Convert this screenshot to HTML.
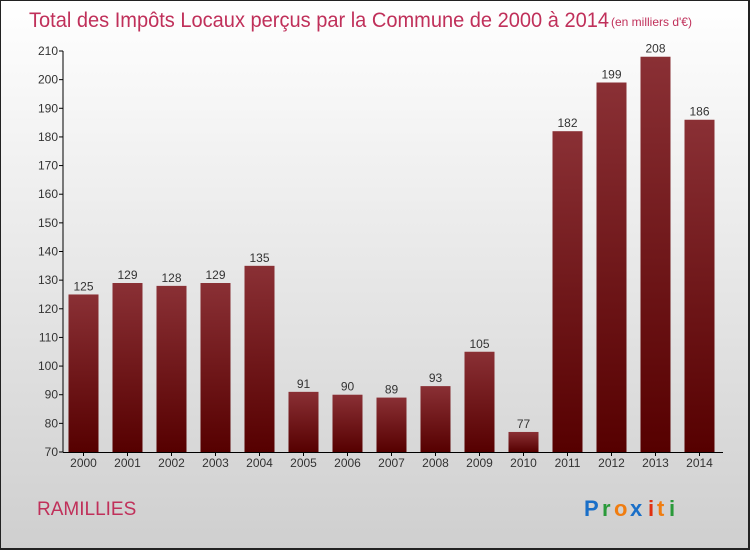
<!DOCTYPE html>
<html><head><meta charset="utf-8"><style>
body{margin:0;}
#wrap{width:750px;height:550px;position:relative;box-sizing:border-box;border:1px solid #222;border-width:1px 2px 2px 1px;background:linear-gradient(#ffffff,#cfcfcf);font-family:"Liberation Sans",sans-serif;overflow:hidden}
</style></head><body>
<div id="wrap">
<svg id="chart" width="750" height="550" style="position:absolute;left:0;top:0">
<defs><linearGradient id="bg" x1="0" x2="0" y1="0" y2="1"><stop offset="0" stop-color="#8a3035"/><stop offset="1" stop-color="#560000"/></linearGradient></defs>
<text x="28" y="26" font-size="21" fill="#c0305a" textLength="580" lengthAdjust="spacingAndGlyphs">Total des Impôts Locaux perçus par la Commune de 2000 à 2014</text>
<text x="610" y="25" font-size="12" fill="#c0305a">(en milliers d'€)</text>
<text x="36" y="514" font-size="19" fill="#c0305a">RAMILLIES</text>
<g font-size="22" font-weight="bold">
<text x="583" y="515" fill="#1a6fc8">P</text><text x="601" y="515" fill="#2a9a3a">r</text><text x="613" y="515" fill="#f07d10">o</text><text x="629" y="515" fill="#1a6fc8">x</text><text x="647" y="515" fill="#e03010">i</text><text x="656" y="515" fill="#f07d10">t</text><text x="668" y="515" fill="#2a9a3a">i</text>
</g>
</svg>
</div>
<script>
const categories=["2000","2001","2002","2003","2004","2005","2006","2007","2008","2009","2010","2011","2012","2013","2014"];
const values=[125,129,128,129,135,91,90,89,93,105,77,182,199,208,186];
const yTicks=[70,80,90,100,110,120,130,140,150,160,170,180,190,200,210];
const svg=document.getElementById('chart');const NS='http://www.w3.org/2000/svg';
const y0=451,y1=50,vmin=70,vmax=210;
function yScale(v){return y0-(v-vmin)*(y0-y1)/(vmax-vmin);}
function xScale(i){return 82.5+i*44;}
function mk(t,a){const e=document.createElementNS(NS,t);for(const k in a)e.setAttribute(k,a[k]);svg.appendChild(e);return e;}
const ax=mk('line',{x1:62,x2:62,y1:y1,y2:y0,stroke:'#000','stroke-width':1});


const bx=mk('line',{x1:62,x2:722,y1:y0+0.5,y2:y0+0.5,stroke:'#000','stroke-width':1});


yTicks.forEach(v=>{const y=yScale(v);
const tk=mk('line',{x1:58,x2:62,y1:y,y2:y,stroke:'#000'});


const t=mk('text',{x:57,y:y+4,'text-anchor':'end','font-size':12,fill:'#333'});t.textContent=v;

});
categories.forEach((c,i)=>{const x=xScale(i),v=values[i],y=yScale(v);
const r=mk('rect',{x:x-15,y:y,width:30,height:y0-y,fill:'url(#bg)'});


const l=mk('text',{x:x,y:y-4,'text-anchor':'middle','font-size':12,fill:'#333'});l.textContent=v;


const tk=mk('line',{x1:x,x2:x,y1:y0,y2:y0+4,stroke:'#000'});


const t=mk('text',{x:x,y:466,'text-anchor':'middle','font-size':12,fill:'#333'});t.textContent=c;

});
</script>
</body></html>
